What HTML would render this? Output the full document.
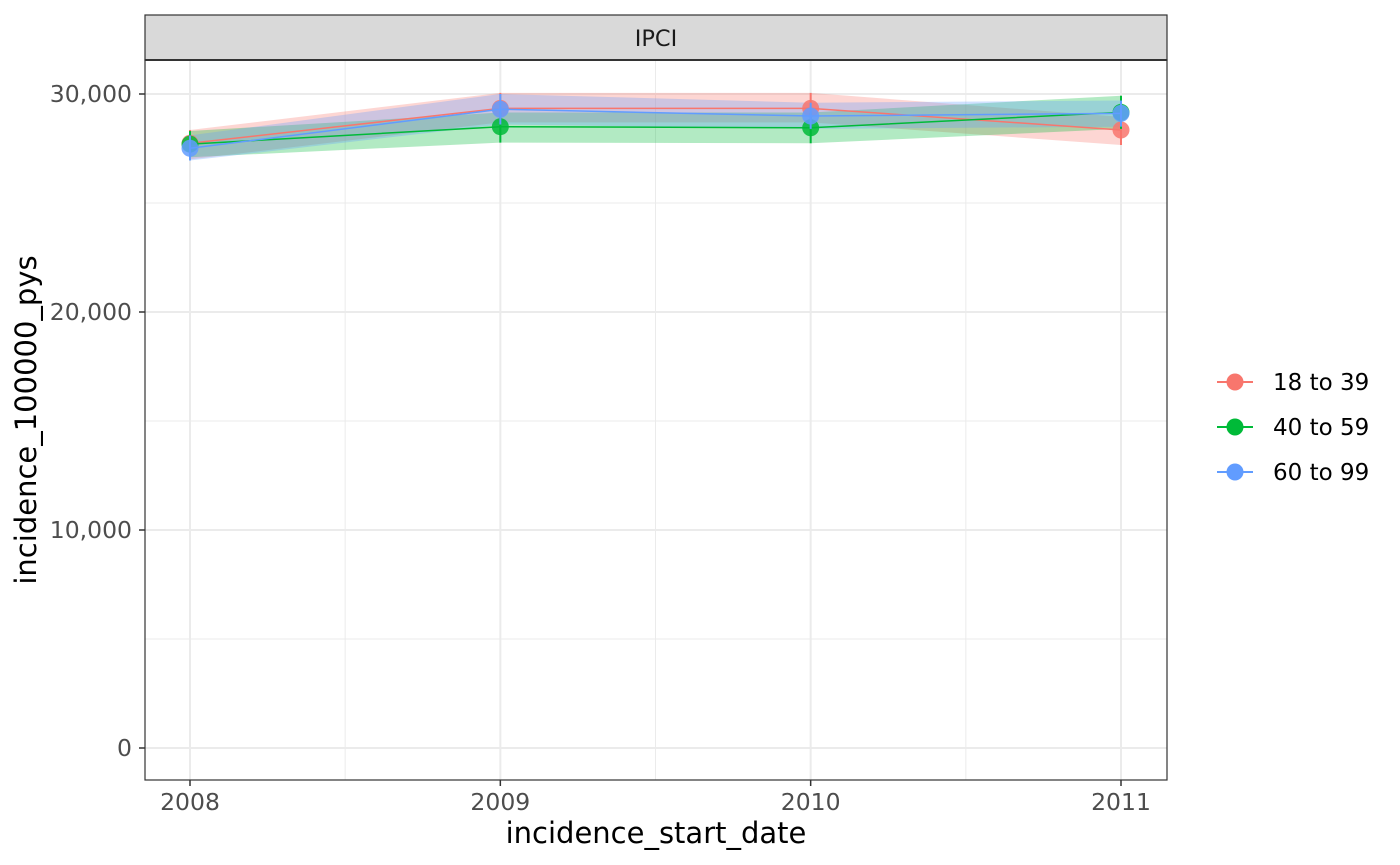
<!DOCTYPE html>
<html><head><meta charset="utf-8"><style>
html,body{margin:0;padding:0;background:#fff;}
svg{display:block;font-family:"DejaVu Sans","Liberation Sans",sans-serif;}
</style></head><body>
<svg id="chart" width="1400" height="865" viewBox="0 0 1400 865">
<rect x="0" y="0" width="1400" height="865" fill="#fff"/>
<g id="grid"></g>
<g id="ribbons"></g>
<g id="lines"></g>
<g id="axes"></g>
<rect x="145" y="60" width="1022" height="720" fill="none" stroke="#333" stroke-width="1.2"/>
<rect x="145" y="15" width="1022" height="45" fill="#d9d9d9" stroke="#333" stroke-width="1.2"/>
<line x1="145" y1="60" x2="1167" y2="60" stroke="#333" stroke-width="2"/>
<text x="656" y="46" font-size="22.5" fill="#1a1a1a" text-anchor="middle">IPCI</text>
<text x="656" y="843" font-size="29" fill="#000" text-anchor="middle">incidence_start_date</text>
<text transform="translate(36,420) rotate(-90)" font-size="29" fill="#000" text-anchor="middle">incidence_100000_pys</text>
<g id="legend"></g>
</svg>
<script>
const years = [2008, 2009, 2010, 2011];
const groups = ["18 to 39", "40 to 59", "60 to 99"];
const colors = ["#F8766D", "#00BA38", "#619CFF"];
const est18 = [27740, 29340, 29340, 28350];
const lo18 = [27000, 28700, 28700, 27660];
const hi18 = [28350, 30050, 30050, 28950];
const est40 = [27700, 28500, 28450, 29160];
const lo40 = [27100, 27770, 27740, 28400];
const hi40 = [28300, 29150, 29150, 29920];
const est60 = [27510, 29300, 28990, 29110];
const lo60 = [26950, 28600, 28400, 28500];
const hi60 = [28100, 30000, 29600, 29700];
const yTicks = [0, 10000, 20000, 30000];
const yTickLabels = ["0", "10,000", "20,000", "30,000"];
const xTickLabels = ["2008", "2009", "2010", "2011"];

const est = [est18, est40, est60], lo = [lo18, lo40, lo60], hi = [hi18, hi40, hi60];
const NS = "http://www.w3.org/2000/svg";
const xs = v => 190 + (v - 2008) * (1121 - 190) / 3;
const ys = v => 748 - v * (748 - 94) / 30000;
function mk(tag, attrs, parent) {
  const e = document.createElementNS(NS, tag);
  for (const k in attrs) e.setAttribute(k, attrs[k]);
  parent.appendChild(e);
  return e;
}
const grid = document.getElementById("grid"), rib = document.getElementById("ribbons"),
      lines = document.getElementById("lines"), axes = document.getElementById("axes"),
      leg = document.getElementById("legend");
for (let i = 0; i < yTicks.length - 1; i++) {
  const y = ys((yTicks[i] + yTicks[i + 1]) / 2);
  const l = mk("line", {x1: 145, x2: 1167, y1: y, y2: y, stroke: "#ebebeb", "stroke-width": 1}, grid);
  
  
}
for (let i = 0; i < years.length - 1; i++) {
  const x = xs((years[i] + years[i + 1]) / 2);
  const l = mk("line", {x1: x, x2: x, y1: 60, y2: 780, stroke: "#ebebeb", "stroke-width": 1}, grid);
  
  
}
yTicks.forEach((t, i) => {
  const y = ys(t);
  const l = mk("line", {x1: 145, x2: 1167, y1: y, y2: y, stroke: "#ebebeb", "stroke-width": 2}, grid);
  
  
  const tk = mk("line", {x1: 139, x2: 145, y1: y, y2: y, stroke: "#333", "stroke-width": 1.5}, axes);
  
  
  const tx = mk("text", {x: 132, y: y + 8, "font-size": 23.5, fill: "#4d4d4d", "text-anchor": "end"}, axes);
  tx.textContent = yTickLabels[i];
  
  
});
years.forEach((yr, i) => {
  const x = xs(yr);
  const l = mk("line", {x1: x, x2: x, y1: 60, y2: 780, stroke: "#ebebeb", "stroke-width": 2}, grid);
  
  
  const tk = mk("line", {x1: x, x2: x, y1: 780, y2: 786, stroke: "#333", "stroke-width": 1.5}, axes);
  
  
  const tx = mk("text", {x: x, y: 810, "font-size": 23.5, fill: "#4d4d4d", "text-anchor": "middle"}, axes);
  tx.textContent = xTickLabels[i];
  
  
});
groups.forEach((g, gi) => {
  let d = "";
  years.forEach((yr, i) => { d += (i ? "L" : "M") + xs(yr) + "," + ys(hi[gi][i]); });
  for (let i = years.length - 1; i >= 0; i--) d += "L" + xs(years[i]) + "," + ys(lo[gi][i]);
  const p = mk("path", {d: d + "Z", fill: colors[gi], "fill-opacity": 0.3, stroke: "none"}, rib);
  
  
});
groups.forEach((g, gi) => {
  const pts = years.map((yr, i) => xs(yr) + "," + ys(est[gi][i])).join(" ");
  const pl = mk("polyline", {points: pts, fill: "none", stroke: colors[gi], "stroke-width": 1.5}, lines);
  
  
  years.forEach((yr, i) => {
    const eb = mk("line", {x1: xs(yr), x2: xs(yr), y1: ys(lo[gi][i]), y2: ys(hi[gi][i]), stroke: colors[gi], "stroke-width": 2}, lines);
    
    
    const c = mk("circle", {cx: xs(yr), cy: ys(est[gi][i]), r: 8.5, fill: colors[gi], "fill-opacity": 0.85}, lines);
    
    
  });
});
groups.forEach((g, gi) => {
  const y = 382 + gi * 45;
  const l = mk("line", {x1: 1217, x2: 1253, y1: y, y2: y, stroke: colors[gi], "stroke-width": 2}, leg);
  
  
  const c = mk("circle", {cx: 1235, cy: y, r: 8.5, fill: colors[gi]}, leg);
  
  
  const t = mk("text", {x: 1273, y: y + 8, "font-size": 23, fill: "#000"}, leg);
  t.textContent = g;
  
  
});
</script>
</body></html>
